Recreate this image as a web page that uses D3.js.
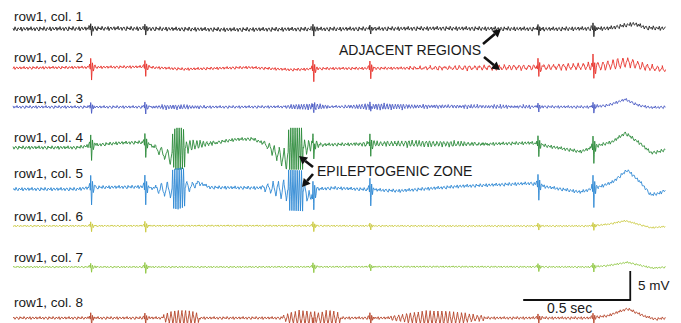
<!DOCTYPE html>
<html>
<head>
<meta charset="utf-8">
<script src="https://cdn.jsdelivr.net/npm/d3@7"></script>
<style>
  body { margin: 0; background: #fff; }
  text { font-family: "Liberation Sans", Arial, Helvetica, sans-serif; fill: #1a1a1a; }
</style>
</head>
<body>
<script>
// ---- data (time in s, values in mV) ----
const channels = ["row1, col. 1", "row1, col. 2", "row1, col. 3", "row1, col. 4",
                  "row1, col. 5", "row1, col. 6", "row1, col. 7", "row1, col. 8"];
const colors = ["#222222", "#e8322b", "#4b5bc4", "#2b8a3a", "#2e88d4", "#c9c83c", "#8dc63f", "#b5452a"];

// interictal spikes seen on every channel
const spikeTimes = [0.364, 0.617, 1.402, 1.668, 2.453, 2.710];
const spikeAmp = [
  [1.2, 1.1, 1.2, 0.9, 1.1, 1.4],
  [2.2, 1.6, 2.2, 1.8, 2.0, 2.3],
  [1.1, 1.2, 0.9, 1.0, 0.9, 1.1],
  [2.6, 2.4, 2.2, 2.3, 2.1, 2.8],
  [3.0, 3.0, 3.2, 2.8, 2.6, 3.3],
  [1.0, 1.1, 1.0, 0.7, 0.7, 0.8],
  [0.9, 1.1, 1.0, 0.7, 0.8, 0.9],
  [1.3, 1.2, 1.0, 1.3, 1.0, 1.1]
];
// spike waveform: [time offset, fraction of amplitude]
const spikeShape = [[-0.012, 0], [-0.006, 0.25], [-0.003, -0.15], [-0.001, 0.7], [0.003, -1.0],
                    [0.007, 0.35], [0.011, -0.3], [0.016, 0.12], [0.024, 0]];

// slow trend of each trace: [t, mV]
const slow1 = [[0, 0], [0.5, 0.1], [1.0, -0.1], [1.5, 0], [2.0, 0.1], [2.5, 0], [2.78, 0.1], [2.9, 0.9], [2.96, 0.2], [3.05, 0.1]];
const slow2 = [[0, 0], [0.3, 0.1], [0.6, 0.2], [0.8, -0.2], [1.1, 0.1], [1.3, -0.3], [1.45, -0.1], [2.0, 0], [2.4, 0.1], [2.75, 0.3], [2.87, 1.0], [2.95, 0.2], [3.05, -0.3]];
const slow3 = [[0, 0], [1.0, 0], [2.0, 0.1], [2.7, 0], [2.78, 0.3], [2.86, 1.3], [2.92, 0.3], [2.98, -0.1], [3.05, 0]];
const slow4 = [[0, -0.1], [0.3, -0.1], [0.37, 0.3], [0.5, 0.7], [0.6, 0.8], [0.64, 0.4], [0.69, -0.8], [0.735, -1.8], [0.75, -0.3],
               [0.80, -0.3], [0.83, 0.3], [0.92, 0.6], [1.04, 1.3], [1.12, 1.4], [1.18, 0.5], [1.22, -0.8], [1.275, -2.3], [1.29, -0.3],
               [1.35, -0.3], [1.40, 0.3], [1.45, 0.4], [1.8, 0.6], [2.2, 0.5], [2.42, 0.7], [2.49, 0.2], [2.65, -0.8], [2.74, 0.3],
               [2.80, 0.9], [2.86, 2.4], [2.93, 0.6], [2.98, -1.0], [3.02, -0.8], [3.05, -0.4]];
const slow5 = [[0, -0.2], [0.3, -0.2], [0.37, 0.1], [0.6, 0.2], [0.64, 0], [0.72, -0.3], [0.83, 0.2], [0.87, 0.9], [0.92, 0.1],
               [1.2, 0], [1.25, -0.3], [1.36, -0.5], [1.39, -1.8], [1.42, -0.2], [1.5, 0], [1.8, -0.5], [2.09, 0.3], [2.42, 0.8],
               [2.49, 0.2], [2.65, -0.7], [2.74, 0.2], [2.80, 1.0], [2.87, 3.1], [2.93, 1.0], [2.98, -1.2], [3.02, -0.9], [3.05, -0.3]];
const slow6 = [[0, 0], [1.0, 0.05], [2.0, 0], [2.7, 0], [2.78, 0.3], [2.86, 0.9], [2.93, 0.2], [2.98, -0.3], [3.05, -0.1]];
const slow7 = [[0, 0], [1.0, 0], [2.0, 0.05], [2.7, 0], [2.78, 0.25], [2.87, 0.8], [2.94, 0.2], [2.99, -0.2], [3.05, 0]];
const slow8 = [[0, 0], [1.0, 0], [2.0, 0], [2.7, 0], [2.78, 0.4], [2.87, 1.6], [2.95, 0.3], [3.0, -0.2], [3.05, 0]];

// rhythmic bursts: [start, end, half-cycles, envelope amplitudes (mV)]
const bursts1 = [];
const bursts2 = [[1.85, 3.05, 104, [0.15, 0.25, 0.3, 0.35, 0.4, 0.4, 0.45, 0.5, 0.6, 0.9, 0.6, 0.35]]];
const bursts3 = [[0.64, 0.90, 40, [0.15, 0.3, 0.3, 0.25, 0.15]], [1.27, 1.48, 34, [0.2, 0.4, 0.45, 0.4, 0.2]],
                 [1.55, 1.95, 62, [0.2, 0.4, 0.45, 0.4, 0.3, 0.2]], [1.95, 2.42, 70, [0.2, 0.2, 0.15]]];
const bursts4 = [[0.66, 0.742, 6, [0.5, 0.9, 1.2]], [0.743, 0.804, 12, [3.0, 3.6, 3.6, 3.6, 3.2]],
                 [0.806, 0.95, 18, [1.0, 0.7, 0.4, 0.25]], [1.17, 1.283, 10, [0.4, 0.9, 1.4, 1.8]],
                 [1.285, 1.355, 14, [3.6, 3.6, 3.6, 3.6]], [1.357, 1.45, 10, [1.4, 0.9, 0.5, 0.3]],
                 [1.6, 2.22, 76, [0.2, 0.35, 0.45, 0.45, 0.4, 0.3, 0.2]]];
const bursts5 = [[0.66, 0.742, 6, [0.6, 1.1, 1.5]], [0.743, 0.804, 12, [3.3, 3.5, 3.5, 3.5, 3.2]],
                 [0.806, 0.88, 6, [1.0, 0.6, 0.3]], [1.16, 1.283, 10, [0.4, 0.9, 1.4, 1.9]],
                 [1.285, 1.355, 14, [3.5, 3.5, 3.5, 3.5]], [1.357, 1.42, 6, [1.5, 0.8, 0.3]]];
const bursts6 = [];
const bursts7 = [];
const bursts8 = [[0.70, 0.87, 20, [0.6, 1.1, 1.3, 1.3, 1.2, 0.8]],
                 [1.26, 1.53, 30, [0.5, 1.0, 1.3, 1.2, 0.8, 1.1, 1.3, 0.9]],
                 [1.76, 2.20, 48, [0.3, 0.6, 0.9, 1.1, 1.2, 1.2, 1.1, 0.9, 0.6, 0.3]]];

// background activity level per trace (mV)
const noiseAmp = [0.42, 0.28, 0.28, 0.34, 0.34, 0.17, 0.17, 0.28];
const wiggle = [0.3, -0.6, 0.9, -0.2, -0.8, 0.5, 0.1, -0.4, 0.8, -0.9, 0.2, 0.6, -0.5, -0.1, 0.7,
                -0.7, 0.4, -0.3, 0.9, -0.6, 0.0, 0.5, -0.8, 0.3, 0.6, -0.4, -0.9, 0.8, -0.2];

const slows = [slow1, slow2, slow3, slow4, slow5, slow6, slow7, slow8];
const burstSets = [bursts1, bursts2, bursts3, bursts4, bursts5, bursts6, bursts7, bursts8];

// ---- layout ----
const W = 681, H = 323;
const T_END = 3.05;
const rowY = [29, 68, 107, 147, 188, 226, 267, 318];
const labelY = [21, 62, 103, 142, 178, 221, 262, 307];

const svg = d3.select("body").append("svg").attr("width", W).attr("height", H);

const x = d3.scaleLinear().domain([0, T_END]).range([13, 666]);
const mv = d3.scaleLinear().domain([0, 5]).range([0, -29]);
const STEP = 1 / 214;

function buildSeries(ci) {
  const knots = slows[ci];
  const base = d3.scaleLinear().domain(knots.map(d => d[0])).range(knots.map(d => d[1])).clamp(true);

  const spikes = spikeTimes.map((s, k) => ({
    lo: s + spikeShape[0][0], hi: s + spikeShape[spikeShape.length - 1][0],
    f: d3.scaleLinear().domain(spikeShape.map(d => s + d[0])).range(spikeShape.map(d => d[1] * spikeAmp[ci][k]))
  }));

  const bursts = burstSets[ci].map(([t0, t1, n, env]) => {
    const envS = d3.scaleLinear().domain(env.map((e, i) => i / (env.length - 1))).range(env);
    const pts = [[t0, 0]];
    for (let k = 0; k < n; k++) {
      const tk = t0 + (k + 0.5) * (t1 - t0) / n;
      pts.push([tk, (k % 2 ? -1 : 1) * envS(n > 1 ? k / (n - 1) : 0)]);
    }
    pts.push([t1, 0]);
    return { lo: t0, hi: t1, pts, f: d3.scaleLinear().domain(pts.map(p => p[0])).range(pts.map(p => p[1])) };
  });

  const grid = d3.range(0, T_END + 1e-9, STEP).map((t, i) => ({ t, n: wiggle[(i + ci * 7) % wiggle.length] }));
  const keys = [];
  spikes.forEach((s, k) => spikeShape.forEach(d => keys.push({ t: spikeTimes[k] + d[0], n: 0 })));
  bursts.forEach(b => b.pts.forEach(p => keys.push({ t: p[0], n: 0 })));

  const all = grid.concat(keys).sort((a, b) => a.t - b.t);
  return all.map(p => {
    let v = base(p.t) + p.n * noiseAmp[ci];
    spikes.forEach(s => { if (p.t >= s.lo && p.t <= s.hi) v += s.f(p.t); });
    bursts.forEach(b => { if (p.t >= b.lo && p.t <= b.hi) v += b.f(p.t); });
    return { t: p.t, v };
  });
}

// traces
channels.forEach((name, ci) => {
  const data = buildSeries(ci);
  const line = d3.line().x(d => x(d.t)).y(d => rowY[ci] + mv(d.v));
  svg.append("path")
    .datum(data)
    .attr("d", line)
    .attr("fill", "none")
    .attr("stroke", colors[ci])
    .attr("stroke-width", 0.9)
    .attr("stroke-linejoin", "round");

  svg.append("text")
    .attr("x", 14)
    .attr("y", labelY[ci])
    .attr("font-size", "13.5px")
    .text(name);
});

// annotations
function arrow(x1, y1, x2, y2) {
  const a = Math.atan2(y2 - y1, x2 - x1);
  const hl = 8, hw = 4.5;
  const bx = x2 - hl * Math.cos(a), by = y2 - hl * Math.sin(a);
  svg.append("line").attr("x1", x1).attr("y1", y1).attr("x2", bx).attr("y2", by)
    .attr("stroke", "#111").attr("stroke-width", 2.6);
  const px = -Math.sin(a) * hw, py = Math.cos(a) * hw;
  svg.append("path")
    .attr("d", `M${x2},${y2}L${bx + px},${by + py}L${bx - px},${by - py}Z`)
    .attr("fill", "#111");
}

svg.append("text").attr("x", 339).attr("y", 55).attr("font-size", "14px").text("ADJACENT REGIONS");
arrow(483, 44, 501, 29);
arrow(484, 57, 500, 70);

svg.append("text").attr("x", 317).attr("y", 176).attr("font-size", "14px").text("EPILEPTOGENIC ZONE");
arrow(313, 167, 299, 156);
arrow(313, 174, 302, 187);

// scale bars
const barT0 = 2.383, barT1 = 2.883, barY = 300;
svg.append("line").attr("x1", x(barT0)).attr("x2", x(barT1)).attr("y1", barY).attr("y2", barY)
  .attr("stroke", "#111").attr("stroke-width", 1.8);
svg.append("line").attr("x1", x(barT1)).attr("x2", x(barT1)).attr("y1", barY + 0.9).attr("y2", barY + mv(5))
  .attr("stroke", "#111").attr("stroke-width", 1.8);
svg.append("text").attr("x", 638).attr("y", 290).attr("font-size", "13.5px").text("5 mV");
svg.append("text").attr("x", 547).attr("y", 313).attr("font-size", "14px").text("0.5 sec");
</script>
</body>
</html>
